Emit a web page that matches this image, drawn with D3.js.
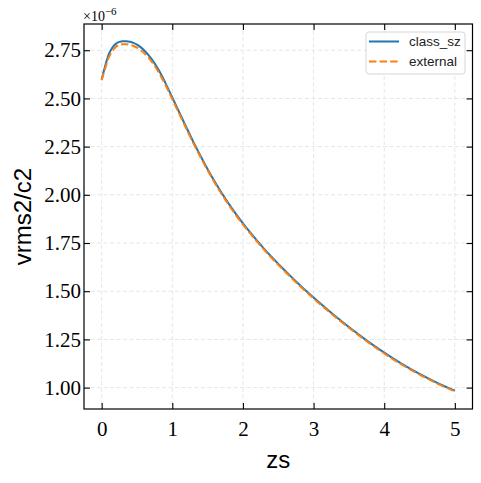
<!DOCTYPE html>
<html><head><meta charset="utf-8">
<script src="https://cdn.jsdelivr.net/npm/d3@7"></script>
<style>body{margin:0;background:#fff}</style>
</head><body>
<svg id="chart" width="481" height="483"></svg>
<script>
// ---- data (values in units of 1e-6) ----
const zs = [0,0.05,0.1,0.15,0.2,0.25,0.3,0.35,0.4,0.45,0.5,0.55,0.6,0.7,0.8,0.9,1.0,1.1,1.2,1.3,1.4,1.5,1.6,1.7,1.8,1.9,2.0,2.1,2.2,2.3,2.4,2.5,2.6,2.7,2.8,2.9,3.0,3.25,3.5,3.75,4.0,4.25,4.5,4.75,5.0];
const classSz = [2.598,2.668,2.728,2.763,2.783,2.793,2.797,2.797,2.794,2.788,2.779,2.766,2.750,2.708,2.652,2.582,2.505,2.427,2.349,2.273,2.201,2.133,2.069,2.009,1.953,1.901,1.852,1.806,1.762,1.720,1.680,1.642,1.605,1.569,1.534,1.500,1.467,1.388,1.314,1.245,1.181,1.123,1.071,1.025,0.984];
const external = [2.594,2.656,2.711,2.745,2.767,2.777,2.781,2.781,2.778,2.772,2.763,2.751,2.736,2.695,2.640,2.572,2.496,2.419,2.342,2.266,2.195,2.127,2.063,2.003,1.947,1.895,1.846,1.801,1.757,1.715,1.675,1.637,1.600,1.564,1.529,1.495,1.462,1.384,1.310,1.241,1.177,1.119,1.067,1.021,0.980];
const seriesNames = ["class_sz", "external"];
const seriesColors = ["#1f77b4", "#ff7f0e"];
const xTicks = [0,1,2,3,4,5];
const yTicks = [1.00,1.25,1.50,1.75,2.00,2.25,2.50,2.75];
const yExponent = "\u22126";
const xLabel = "zs";
const yLabel = "vrms2/c2";

const svg = d3.select("#chart");
const L = 84, R = 472.5, T = 24, B = 409;
const x = d3.scaleLinear().domain([-0.25, 5.25]).range([L, R]);
const y = d3.scaleLinear().domain([0.889, 2.886]).range([B, T]);
const serif = "'Liberation Serif', 'Times New Roman', serif";
const sans = "'Liberation Sans', Arial, Helvetica, sans-serif";

// grid
const grid = svg.append("g").attr("stroke", "#e6e6e6").attr("stroke-width", 1).attr("stroke-dasharray", "4,2.5");
grid.selectAll("line.gx").data(xTicks).join("line")
  .attr("x1", d => x(d)).attr("x2", d => x(d)).attr("y1", T).attr("y2", B);
grid.selectAll("line.gy").data(yTicks).join("line")
  .attr("y1", d => y(d)).attr("y2", d => y(d)).attr("x1", L).attr("x2", R);

// lines
const line = d3.line().x(d => x(d[0])).y(d => y(d[1])).curve(d3.curveMonotoneX);
const datasets = [classSz, external];
datasets.forEach((vals, i) => {
  svg.append("path")
    .datum(zs.map((z, j) => [z, vals[j]]))
    .attr("fill", "none")
    .attr("stroke", seriesColors[i])
    .attr("stroke-width", 2)
    .attr("stroke-dasharray", i === 1 ? "7.4,3.2" : null)
    .attr("d", line);
});

// axes (inward ticks all sides)
const tick = 6;
const axB = d3.axisBottom(x).tickValues(xTicks).tickSize(-tick).tickPadding(12).tickFormat(d3.format("d"));
const axT = d3.axisTop(x).tickValues(xTicks).tickSize(-tick).tickFormat("");
const axL = d3.axisLeft(y).tickValues(yTicks).tickSize(-tick).tickPadding(3).tickFormat(d3.format(".2f"));
const axR = d3.axisRight(y).tickValues(yTicks).tickSize(-tick).tickFormat("");
function style(g) {
  g.select(".domain").remove();
  g.selectAll(".tick line").attr("stroke", "#000").attr("stroke-width", 1.1);
  g.selectAll(".tick text").attr("fill", "#000").style("font-family", serif).style("font-size", "21px");
}
svg.append("g").attr("transform", `translate(0,${B})`).call(axB).call(style);
svg.append("g").attr("transform", `translate(0,${T})`).call(axT).call(style);
svg.append("g").attr("transform", `translate(${L},0)`).call(axL).call(style);
svg.append("g").attr("transform", `translate(${R},0)`).call(axR).call(style);

// spines
svg.append("rect").attr("x", L).attr("y", T).attr("width", R - L).attr("height", B - T)
  .attr("fill", "none").attr("stroke", "#000").attr("stroke-width", 1.2);

// offset text
const off = svg.append("text").attr("x", L - 1).attr("y", 20.5)
  .style("font-family", serif).style("font-size", "14px").attr("fill", "#000");
off.append("tspan").text("\u00d710");
off.append("tspan").attr("dy", -5.5).style("font-size", "11px").text(yExponent);

// axis labels
svg.append("text").attr("x", (L + R) / 2).attr("y", 468).attr("text-anchor", "middle")
  .style("font-family", sans).style("font-size", "24px").attr("fill", "#000").text(xLabel);
svg.append("text").attr("transform", `translate(31,${(T + B) / 2}) rotate(-90)`).attr("text-anchor", "middle")
  .style("font-family", sans).style("font-size", "24px").attr("fill", "#000").text(yLabel);

// legend
const lg = svg.append("g");
lg.append("rect").attr("x", 366).attr("y", 32).attr("width", 99).attr("height", 42).attr("rx", 3)
  .attr("fill", "#fff").attr("fill-opacity", 0.8).attr("stroke", "#d6d6d6").attr("stroke-width", 1);
seriesNames.forEach((name, i) => {
  const yy = 41.5 + i * 20;
  lg.append("line").attr("x1", 369).attr("x2", 399).attr("y1", yy).attr("y2", yy)
    .attr("stroke", seriesColors[i]).attr("stroke-width", 2)
    .attr("stroke-dasharray", i === 1 ? "7.4,3.2" : null);
  lg.append("text").attr("x", 409).attr("y", yy).attr("dy", "0.35em")
    .style("font-family", sans).style("font-size", "13.5px").attr("fill", "#222").text(name);
});
</script>
</body></html>
